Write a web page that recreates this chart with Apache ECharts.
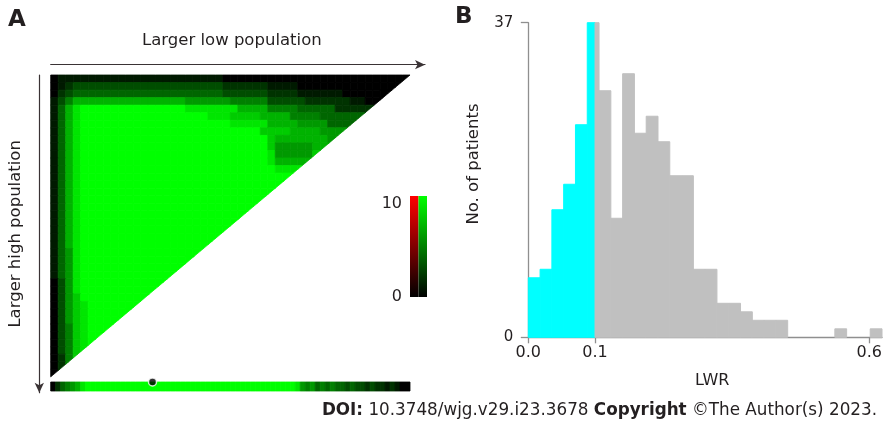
<!DOCTYPE html>
<html><head><meta charset="utf-8">
<script src="https://cdn.jsdelivr.net/npm/echarts@6/dist/echarts.min.js"></script>
<style>html,body{margin:0;padding:0;background:#fff}#c{width:887px;height:423px}</style>
</head><body><div id="c"></div>
<script>
// ---------- Panel A: heat map (levels 0-10, 'a' = 10), top row first ----------
const heatCols = 48;
const heatRowsCount = 40;
const heatRows = [
  "011111111111111111111110000000000000000000000000",
  "012333333333333333333332222221111000000000000000",
  "023444444444444444444443333332222111111000000000",
  "135777777777777777666666555553333322222211000000",
  "1479aaaaaaaaaaaaaa999999977775555444442222220000",
  "1479aaaaaaaaaaaaaaaaa999888877775555444444222222",
  "1479aaaaaaaaaaaaaaaaaaaa999997777666644444444444",
  "1479aaaaaaaaaaaaaaaaaaaaaaaa88887777666666666666",
  "1479aaaaaaaaaaaaaaaaaaaaaaaaa8777777766666666666",
  "1479aaaaaaaaaaaaaaaaaaaaaaaaa8666667777777777777",
  "1479aaaaaaaaaaaaaaaaaaaaaaaaa9666668888888888888",
  "1479aaaaaaaaaaaaaaaaaaaaaaaaa9777779999999999999",
  "1479aaaaaaaaaaaaaaaaaaaaaaaaaa9999aaaaaaaaaaaaaa",
  "1479aaaaaaaaaaaaaaaaaaaaaaaaaaaaaaaa",
  "1479aaaaaaaaaaaaaaaaaaaaaaaaaaaaaaaa",
  "1479aaaaaaaaaaaaaaaaaaaaaaaaaaaaaaaa",
  "1479aaaaaaaaaaaaaaaaaaaaaaaaaaaaaaaa",
  "1479aaaaaaaaaaaaaaaaaaaaaaaaaaaaaaaa",
  "1479aaaaaaaaaaaaaaaaaaaaaaaaaaaaaaaa",
  "1479aaaaaaaaaaaaaaaaaaaaaaaaaaaaaaaa",
  "1479aaaaaaaaaaaaaaaaaaaa",
  "1479aaaaaaaaaaaaaaaaaaaa",
  "1479aaaaaaaaaaaaaaaaaaaa",
  "1469aaaaaaaaaaaaaaaaaaaa",
  "1469aaaaaaaaaaaaaaaaaaaa",
  "1469aaaaaaaaaaaaaa",
  "1469aaaaaaaaaaaaaa",
  "0369aaaaaaaaaaaaaa",
  "0369aaaaaaaaaaaaaa",
  "0368aaaaaaaaaaaaaa",
  "03689aaaaaaa",
  "03689aaaaaaa",
  "03689aaaaaaa",
  "03589aaaaaaa",
  "03589aaaaaaa",
  "03589a",
  "03589a",
  "02589a",
  "02589a",
  "02589a"
];
// bottom strip (72 cells)
const stripValues = "0245679aaaaaaaaaaaaaaaaaaaaaaaaaaaaaaaaaaaaaaaaaa96564545443433232212100";
const stripCells = 72;
const dotPosition = 20.4;
// colour bar
const colorbarRange = [0, 10];
const colorbarTicks = [0, 10];
const heatAxisNames = ["Larger low population", "Larger high population"];

// ---------- Panel B: histogram ----------
const binCounts = [7, 8, 15, 18, 25, 37, 29, 14, 31, 24, 26, 23, 19, 19, 8, 8, 4, 4, 3, 2, 2, 2, 0, 0, 0, 0, 1, 0, 0, 1];
const cutoffPos = 5.66;              // LWR = 0.1 on the bin axis
const xTickPos = [0, 5.66, 28.92];
const xTickLabels = ["0.0", "0.1", "0.6"];
const yTicks = [0, 37];
const yMax = 37;
const histAxisNames = ["LWR", "No. of patients"];

const FONT = "DejaVu Sans";
const TXT = "#231f20";
const ARROW = "#3a3335";
const GREYAX = "#8f8f8f";

// ---------- build series data ----------
const heatCells = [];
heatRows.forEach((row, r) => {
  for (let c = 0; c < row.length; c++) heatCells.push([c, r, parseInt(row[c], 16)]);
});
const stripData = [];
for (let k = 0; k < stripValues.length; k++) stripData.push([k, parseInt(stripValues[k], 16)]);

const histSegments = [];
binCounts.forEach((n, i) => {
  const s = i, e = i + 1;
  if (e <= cutoffPos) histSegments.push([s, e, n, 1]);
  else if (s >= cutoffPos) histSegments.push([s, e, n, 0]);
  else { histSegments.push([s, cutoffPos, n, 1]); histSegments.push([cutoffPos, e, n, 0]); }
});

function greenOf(v) { const g = Math.round(v * 25.5); return "rgb(0," + g + ",0)"; }

function clipTriangle(poly) {
  const k = heatCols / heatRowsCount;
  const f = p => heatCols - (p[0] + k * p[1]);
  const out = [];
  for (let i = 0; i < poly.length; i++) {
    const a = poly[i], b = poly[(i + 1) % poly.length];
    const fa = f(a), fb = f(b);
    if (fa >= 0) out.push(a);
    if ((fa >= 0) !== (fb >= 0)) {
      const t = fa / (fa - fb);
      out.push([a[0] + t * (b[0] - a[0]), a[1] + t * (b[1] - a[1])]);
    }
  }
  return out;
}

const hiddenAxis = { axisLine: { show: false }, axisTick: { show: false }, axisLabel: { show: false }, splitLine: { show: false } };

const chart = echarts.init(document.getElementById("c"));
chart.setOption({
  animation: false,
  backgroundColor: "#ffffff",
  textStyle: { fontFamily: FONT },
  grid: [
    { left: 50.7, top: 75, width: 374.3, height: 317.7, outerBoundsMode: "none" },
    { left: 50.7, top: 382, width: 359.3, height: 9, outerBoundsMode: "none" },
    { left: 410, top: 196, width: 17, height: 101, outerBoundsMode: "none" },
    { left: 528.3, top: 22.7, width: 353.7, height: 314.6, outerBoundsMode: "none" }
  ],
  xAxis: [
    { gridIndex: 0, type: "value", min: 0, max: 50, position: "top", offset: 10.3,
      axisLine: { show: true, onZero: false, lineStyle: { color: ARROW, width: 1.2 }, symbol: ["none", "arrow"], symbolSize: [7, 10] },
      axisTick: { show: false }, axisLabel: { show: false }, splitLine: { show: false },
      name: heatAxisNames[0], nameLocation: "middle", nameGap: 15,
      nameTextStyle: { fontFamily: FONT, fontSize: 16.5, color: TXT, padding: [0, 12, 0, 0] } },
    Object.assign({ gridIndex: 1, type: "value", min: 0, max: stripCells }, hiddenAxis),
    Object.assign({ gridIndex: 2, type: "value", min: 0, max: 2 }, hiddenAxis),
    { gridIndex: 3, type: "value", min: 0, max: binCounts.length,
      axisLine: { show: true, onZero: false, lineStyle: { color: GREYAX, width: 1.3 } },
      axisTick: { show: true, customValues: xTickPos, length: 6, lineStyle: { color: GREYAX, width: 1.3 } },
      axisLabel: { show: true, customValues: xTickPos, margin: 8, fontSize: 16, color: TXT, fontFamily: FONT,
        formatter: v => { let bi = 0; xTickPos.forEach((p, i) => { if (Math.abs(p - v) < Math.abs(xTickPos[bi] - v)) bi = i; }); return xTickLabels[bi]; } },
      splitLine: { show: false },
      name: histAxisNames[0], nameLocation: "middle", nameGap: 36,
      nameTextStyle: { fontFamily: FONT, fontSize: 16, color: TXT, padding: [0, 0, 0, 14] } }
  ],
  yAxis: [
    { gridIndex: 0, type: "value", min: 0, max: 42.1, inverse: true, position: "left", offset: 11.4,
      axisLine: { show: true, onZero: false, lineStyle: { color: ARROW, width: 1.2 }, symbol: ["arrow", "none"], symbolSize: [7, 10] },
      axisTick: { show: false }, axisLabel: { show: false }, splitLine: { show: false },
      name: heatAxisNames[1], nameLocation: "middle", nameGap: 15,
      nameTextStyle: { fontFamily: FONT, fontSize: 16.5, color: TXT } },
    Object.assign({ gridIndex: 1, type: "value", min: 0, max: 1 }, hiddenAxis),
    { gridIndex: 2, type: "value", min: colorbarRange[0], max: colorbarRange[1],
      axisLine: { show: false }, axisTick: { show: false }, splitLine: { show: false },
      axisLabel: { show: true, customValues: colorbarTicks, margin: 8, fontSize: 16, color: TXT, fontFamily: FONT,
        verticalAlignMaxLabel: "top" } },
    { gridIndex: 3, type: "value", min: 0, max: yMax,
      axisLine: { show: true, onZero: false, lineStyle: { color: GREYAX, width: 1.3 } },
      axisTick: { show: true, customValues: yTicks, length: 7.5, lineStyle: { color: GREYAX, width: 1.3 } },
      axisLabel: { show: true, customValues: yTicks, margin: 15, fontSize: 15, color: TXT, fontFamily: FONT },
      splitLine: { show: false },
      name: histAxisNames[1], nameLocation: "middle", nameGap: 46,
      nameTextStyle: { fontFamily: FONT, fontSize: 16.5, color: TXT, padding: [0, 0, 0, 32] } }
  ],
  series: [
    { type: "custom", xAxisIndex: 0, yAxisIndex: 0, data: heatCells, clip: false,
      renderItem: (params, api) => {
        const c = api.value(0), r = api.value(1), v = api.value(2);
        const poly = clipTriangle([[c, r], [c + 1, r], [c + 1, r + 1], [c, r + 1]]);
        if (poly.length < 3) return null;
        const col = greenOf(v);
        return { type: "polygon", shape: { points: poly.map(p => api.coord(p)) },
          style: { fill: col, stroke: col, lineWidth: 0.8 } };
      } },
    { type: "custom", xAxisIndex: 1, yAxisIndex: 1, data: stripData, clip: false,
      renderItem: (params, api) => {
        const k = api.value(0), v = api.value(1);
        const p0 = api.coord([k, 1]), p1 = api.coord([k + 1, 0]);
        const col = greenOf(v);
        return { type: "rect", shape: { x: p0[0], y: p0[1], width: p1[0] - p0[0], height: p1[1] - p0[1] },
          style: { fill: col, stroke: col, lineWidth: 0.8 } };
      } },
    { type: "scatter", xAxisIndex: 1, yAxisIndex: 1, data: [[dotPosition, 1]], clip: false, z: 5,
      symbol: "circle", symbolSize: 8,
      itemStyle: { color: "#000000", borderColor: "#ffffff", borderWidth: 1.5 } },
    { type: "custom", xAxisIndex: 2, yAxisIndex: 2, data: [[0], [1]], clip: false,
      renderItem: (params, api) => {
        const i = api.value(0);
        const p0 = api.coord([i, colorbarRange[1]]), p1 = api.coord([i + 1, colorbarRange[0]]);
        const top = i === 0 ? "#ff0000" : "#00ff00";
        return { type: "rect", shape: { x: p0[0], y: p0[1], width: p1[0] - p0[0], height: p1[1] - p0[1] },
          style: { fill: new echarts.graphic.LinearGradient(0, 0, 0, 1, [{ offset: 0, color: top }, { offset: 1, color: "#000000" }]) } };
      } },
    { type: "custom", xAxisIndex: 3, yAxisIndex: 3, data: histSegments, clip: false,
      renderItem: (params, api) => {
        const s = api.value(0), e = api.value(1), n = api.value(2), low = api.value(3);
        if (n <= 0) return null;
        const p0 = api.coord([s, n]), p1 = api.coord([e, 0]);
        const col = low ? "#00ffff" : "#c0c0c0";
        return { type: "rect", shape: { x: p0[0], y: p0[1], width: p1[0] - p0[0], height: p1[1] - p0[1] },
          style: { fill: col, stroke: col, lineWidth: 1 } };
      } }
  ],
  graphic: [
    { type: "text", left: 8, top: 9, style: { text: "A", fontFamily: FONT, fontSize: 23, fontWeight: "bold", fill: TXT } },
    { type: "text", left: 455, top: 6, style: { text: "B", fontFamily: FONT, fontSize: 23, fontWeight: "bold", fill: TXT } },
    { type: "text", right: 10, top: 402, style: {
        text: "{b|DOI:} 10.3748/wjg.v29.i23.3678 {b|Copyright} ©The Author(s) 2023.",
        fontFamily: FONT, fontSize: 16.8, fill: TXT,
        rich: { b: { fontFamily: FONT, fontSize: 16.8, fontWeight: "bold", fill: TXT } } } }
  ]
});
</script>
</body></html>
